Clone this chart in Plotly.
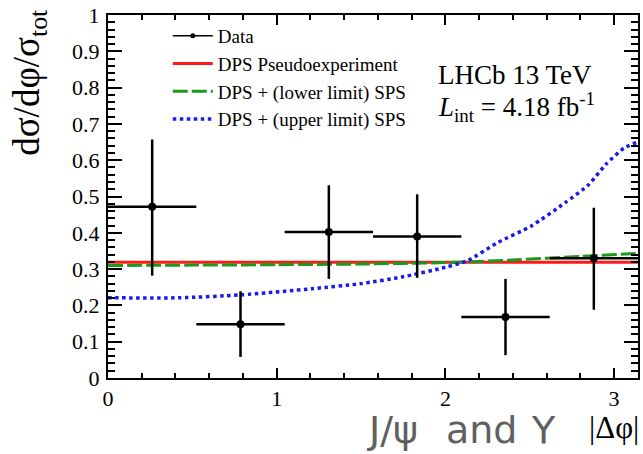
import math
import plotly.graph_objects as go

PI = math.pi

# ---- data ----
data_x = [0.2618, 0.7854, 1.3090, 1.8326, 2.3562, 2.8798]
data_y = [0.472, 0.148, 0.402, 0.390, 0.168, 0.330]
data_hi = [0.657, 0.239, 0.531, 0.506, 0.273, 0.469]
data_lo = [0.282, 0.058, 0.273, 0.276, 0.063, 0.188]
bin_half = [0.2618, 0.2618, 0.2618, 0.2618, 0.2618, 0.2618]

dps_x = [0.0, 3.1416]
dps_y = [0.319, 0.319]

lower_x = [0.0, 0.5, 1.0, 1.5, 2.0, 2.4, 2.8, 3.1416]
lower_y = [0.310, 0.311, 0.312, 0.314, 0.318, 0.325, 0.335, 0.343]

upper_x = [0.0, 0.42, 0.79, 1.21, 1.5, 1.74, 2.0, 2.13, 2.31, 2.51, 2.71, 2.85, 2.95, 3.06, 3.1416]
upper_y = [0.221, 0.221, 0.229, 0.246, 0.260, 0.278, 0.305, 0.323, 0.373, 0.419, 0.483, 0.533, 0.588, 0.634, 0.650]

x_ticks = [0, 1, 2, 3]
y_ticks = [0, 0.1, 0.2, 0.3, 0.4, 0.5, 0.6, 0.7, 0.8, 0.9, 1]
y_ticklabels = ["0", "0.1", "0.2", "0.3", "0.4", "0.5", "0.6", "0.7", "0.8", "0.9", "1"]

SERIF = "Liberation Serif, Times New Roman, serif"

fig = go.Figure()

# legend proxy for Data (line + dot)
fig.add_trace(go.Scatter(x=[None], y=[None], mode="lines+markers", name="Data",
                         line=dict(color="black", width=1.5),
                         marker=dict(color="black", size=5)))

fig.add_trace(go.Scatter(x=dps_x, y=dps_y, mode="lines", name="DPS Pseudoexperiment",
                         line=dict(color="#ff1a1a", width=3)))
fig.add_trace(go.Scatter(x=lower_x, y=lower_y, mode="lines", name="DPS + (lower limit) SPS",
                         line=dict(color="#1a9a1a", width=3, dash="15px,4px", shape="spline",
                                   smoothing=0.6)))
fig.add_trace(go.Scatter(x=upper_x, y=upper_y, mode="lines", name="DPS + (upper limit) SPS",
                         line=dict(color="#1a1aee", width=3.5, dash="3.5px,3.5px", shape="spline",
                                   smoothing=0.6)))

fig.add_trace(go.Scatter(
    x=data_x, y=data_y, mode="markers", name="Data", showlegend=False,
    marker=dict(color="black", size=8),
    error_x=dict(type="data", array=bin_half, color="black", thickness=2.5, width=0),
    error_y=dict(type="data", symmetric=False,
                 array=[h - v for h, v in zip(data_hi, data_y)],
                 arrayminus=[v - l for v, l in zip(data_y, data_lo)],
                 color="black", thickness=2.5, width=0),
))

axis_common = dict(showline=True, linecolor="black", linewidth=2, mirror="allticks",
                   ticks="inside", tickcolor="black", tickwidth=2,
                   showgrid=False, zeroline=False,
                   tickfont=dict(family=SERIF, size=22, color="black"))

fig.update_xaxes(range=[0, PI], tickvals=x_ticks, ticklen=10,
                 minor=dict(ticks="inside", dtick=0.2, tick0=0, ticklen=5, tickwidth=1.5,
                            tickcolor="black", showgrid=False),
                 ticklabelstandoff=0, **axis_common)
fig.update_yaxes(range=[0, 1], tickvals=y_ticks, ticktext=y_ticklabels, ticklen=14,
                 minor=dict(ticks="inside", dtick=0.02, tick0=0, ticklen=7, tickwidth=1.5,
                            tickcolor="black", showgrid=False),
                 ticklabelstandoff=2, **axis_common)

SANS_GRAY = dict(family="DejaVu Sans", size=38, color="#606060")

annotations = [
    dict(text="dσ/dφ/σ<sub>tot</sub>", xref="paper", yref="paper",
         x=(29 - 108) / 532, y=(378 - 5) / 365, xanchor="center", yanchor="top",
         textangle=-90, showarrow=False, font=dict(family=SERIF, size=37, color="black")),
    dict(text="LHCb 13 TeV", xref="paper", yref="paper",
         x=(437 - 108) / 532, y=(378 - 73) / 365, xanchor="left", yanchor="middle",
         showarrow=False, font=dict(family=SERIF, size=27, color="black")),
    dict(text="<i>L</i><sub>int</sub> = 4.18 fb<sup>-1</sup>", xref="paper", yref="paper",
         x=(437 - 108) / 532, y=(378 - 106) / 365, xanchor="left", yanchor="middle",
         showarrow=False, font=dict(family=SERIF, size=27, color="black")),
    dict(text="|Δφ|", xref="paper", yref="paper",
         x=(643 - 108) / 532, y=(378 - 428) / 365, xanchor="right", yanchor="middle",
         showarrow=False, font=dict(family=SERIF, size=31, color="black")),
    dict(text="J/ψ", xref="paper", yref="paper",
         x=(394 - 108) / 532, y=(378 - 430) / 365, xanchor="center", yanchor="middle",
         showarrow=False, font=SANS_GRAY),
    dict(text="and", xref="paper", yref="paper",
         x=(483 - 108) / 532, y=(378 - 430) / 365, xanchor="center", yanchor="middle",
         showarrow=False, font=SANS_GRAY),
    dict(text="Υ", xref="paper", yref="paper",
         x=(545 - 108) / 532, y=(378 - 430) / 365, xanchor="center", yanchor="middle",
         showarrow=False, font=SANS_GRAY),
]

fig.update_layout(
    width=643, height=454,
    margin=dict(l=108, r=3, t=13, b=76),
    paper_bgcolor="white", plot_bgcolor="white",
    showlegend=True,
    legend=dict(x=(168 - 108) / 532, y=(378 - 15) / 365, xanchor="left", yanchor="top",
                bgcolor="rgba(255,255,255,0)", borderwidth=0,
                font=dict(family=SERIF, size=19, color="black"),
                itemwidth=40, tracegroupgap=0),
    annotations=annotations,
)

fig.write_html("out.html")
